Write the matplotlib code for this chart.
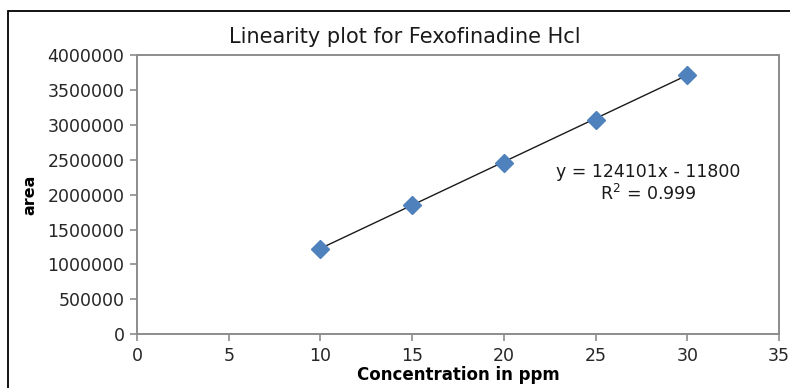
import matplotlib
matplotlib.use("Agg")
import matplotlib.pyplot as plt
from matplotlib.patches import Rectangle

conc = [10, 15, 20, 25, 30]
area = [1220000, 1850000, 2460000, 3070000, 3715000]
slope = 124101
intercept = -11800
eq_text = "y = 124101x - 11800"
r2_text = "R$^2$ = 0.999"
title = "Linearity plot for Fexofinadine Hcl"
xlabel = "Concentration in ppm"
ylabel = "area"
xticks = [0, 5, 10, 15, 20, 25, 30, 35]
yticks = [0, 500000, 1000000, 1500000, 2000000, 2500000, 3000000, 3500000, 4000000]

plt.rcParams['font.family'] = ['DejaVu Sans']
fig = plt.figure(figsize=(7.9, 3.88), dpi=100)
fig.patch.set_facecolor('white')
# outer chart frame (cropped on right and bottom)
fig.patches.append(Rectangle((8/790, -0.1), 1.2, 1 - 11/388 + 0.1, transform=fig.transFigure,
                             fill=False, edgecolor='black', linewidth=1.3))

ax = fig.add_axes([137/790, 1 - 334.3/388, (779-137)/790, (334.3-55)/388])
gray = '#8c8c8c'
for s in ax.spines.values():
    s.set_color(gray)
    s.set_linewidth(1.4)

xs = [conc[0], conc[-1]]
ys = [slope * x + intercept for x in xs]
ax.plot(xs, ys, color='#1a1a1a', linewidth=1.0, zorder=2)
ax.plot(conc, area, linestyle='none', marker='D', markersize=9.5,
        color='#4F81BD', markeredgecolor='#4F81BD', zorder=3)

ax.set_xlim(0, 35)
ax.set_ylim(0, 4000000)
ax.set_xticks(xticks)
ax.set_yticks(yticks)
ax.set_xticklabels([str(t) for t in xticks])
ax.set_yticklabels([str(t) for t in yticks])
ax.tick_params(axis='both', direction='out', length=5, width=1.2, color=gray,
               labelsize=12.5, labelcolor='#262626', pad=4)

fig.text(405/790, 1 - 37/388, title, ha='center', va='center', fontsize=15, color='#1a1a1a')
ax.set_xlabel(xlabel, fontsize=12, fontweight='bold', color='black', labelpad=1)
ax.set_ylabel(ylabel, fontsize=11.5, fontweight='bold', color='black')
ax.yaxis.set_label_coords((37 - 137) / 642, 0.5)

ax.text(27.86, 2324000, eq_text, ha='center', va='center', fontsize=12.5, color='#1a1a1a')
ax.text(27.86, 2010000, r2_text, ha='center', va='center', fontsize=12.5, color='#1a1a1a')

fig.savefig('out.png', dpi=100, facecolor='white')
